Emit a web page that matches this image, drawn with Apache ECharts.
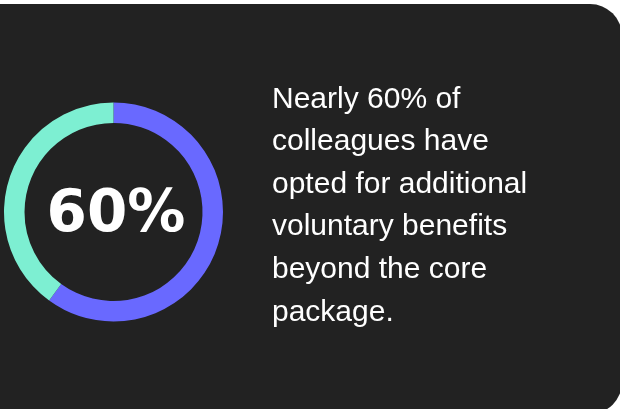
<!DOCTYPE html>
<html>
<head>
<meta charset="utf-8">
<script src="https://cdn.jsdelivr.net/npm/echarts@6/dist/echarts.min.js"></script>
<style>
html,body{margin:0;padding:0;background:#ffffff;}
#chart{width:620px;height:409px;}
</style>
</head>
<body>
<div id="chart"></div>
<script>
const categories = ['Opted for voluntary benefits', 'Core package only'];
const values = [60, 40];
const centerLabel = '60%';
const textLines = ['Nearly 60% of', 'colleagues have', 'opted for additional', 'voluntary benefits', 'beyond the core', 'package.'];

const chart = echarts.init(document.getElementById('chart'), null, {renderer: 'canvas'});
chart.setOption({
  backgroundColor: '#ffffff',
  animation: false,
  graphic: [
    {type: 'rect', z: 0, shape: {x: -40, y: 4, width: 662, height: 410, r: 32}, style: {fill: '#222222'}},
    {type: 'text', z: 10, left: 272, top: 78, style: {text: textLines.join('\n'), fill: '#ffffff', font: '30px "Liberation Sans", Arial, sans-serif', lineHeight: 42.6}}
  ],
  series: [{
    type: 'pie',
    z: 5,
    center: [113.5, 212],
    radius: [89, 109.5],
    startAngle: 90,
    clockwise: true,
    silent: true,
    label: {show: false},
    labelLine: {show: false},
    itemStyle: {borderWidth: 0},
    data: categories.map((c, i) => ({name: c, value: values[i], itemStyle: {color: i === 0 ? '#6969ff' : '#7defd2'}}))
  }],
  title: {
    text: centerLabel,
    left: 111,
    top: 211,
    textAlign: 'center',
    textVerticalAlign: 'middle',
    textStyle: {color: '#ffffff', fontFamily: 'DejaVu Sans', fontWeight: 'bold', fontSize: 58}
  }
});
</script>
</body>
</html>
